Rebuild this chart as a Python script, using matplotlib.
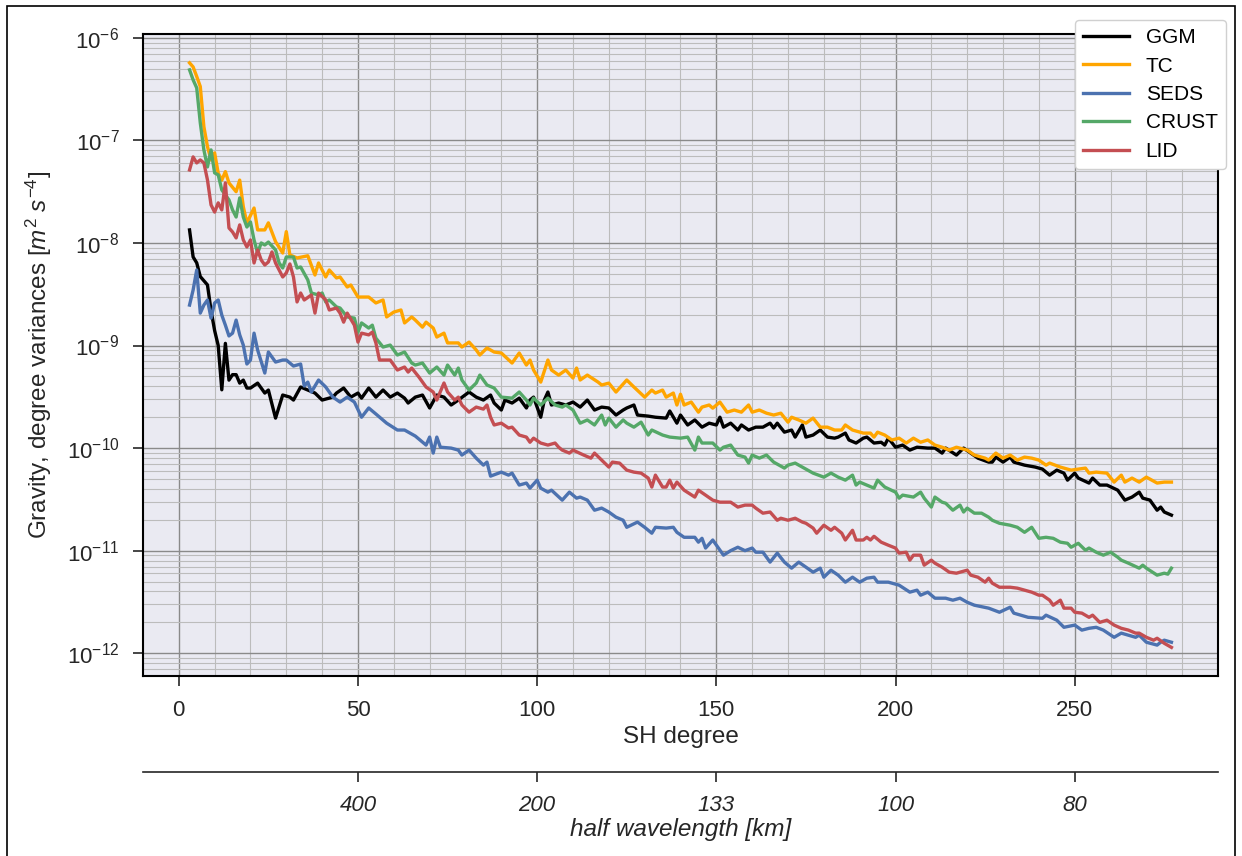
import matplotlib
matplotlib.use("Agg")
import matplotlib.pyplot as plt
from matplotlib.patches import Rectangle
from matplotlib.ticker import LogLocator, MultipleLocator, NullFormatter

plt.rcParams['font.family'] = ['Liberation Sans', 'DejaVu Sans']
plt.rcParams['mathtext.fontset'] = 'custom'
plt.rcParams['mathtext.rm'] = 'Liberation Sans'
plt.rcParams['mathtext.it'] = 'Liberation Sans:italic'
plt.rcParams['mathtext.bf'] = 'Liberation Sans:bold'

# degree variances: (SH degree, value in m^2 s^-4)
ggm = [
    (3, 1.34e-8), (4, 7.3e-9), (5, 6.4e-9), (6, 4.7e-9), (8, 3.9e-9), (9, 2.2e-9),
    (10, 1.4e-9), (11, 1.0e-9), (12, 3.7e-10), (13, 1.05e-9), (14, 4.6e-10), (15, 5.2e-10),
    (16, 5.2e-10), (17, 4.3e-10), (18, 4.6e-10), (19, 3.85e-10), (20, 3.85e-10), (22, 4.3e-10),
    (24, 3.44e-10), (25, 3.68e-10), (27, 1.96e-10), (29, 3.29e-10), (31, 3.14e-10), (32, 2.94e-10),
    (34, 3.94e-10), (36, 3.68e-10), (38, 3.44e-10), (40, 2.94e-10), (43, 3.14e-10), (44, 3.44e-10),
    (46, 3.85e-10), (48, 3.14e-10), (50, 3.44e-10), (51, 3.07e-10), (53, 3.85e-10), (55, 3.14e-10),
    (57, 3.68e-10), (59, 3.14e-10), (61, 3.44e-10), (63, 3.07e-10), (64, 2.75e-10), (66, 3.14e-10),
    (68, 3.29e-10), (70, 2.46e-10), (72, 3.29e-10), (74, 3.14e-10), (76, 2.63e-10), (78, 2.94e-10),
    (81, 3.52e-10), (83, 3.14e-10), (85, 2.94e-10), (87, 3.29e-10), (88, 2.75e-10), (90, 2.35e-10),
    (91, 2.94e-10), (93, 2.75e-10), (95, 3.07e-10), (97, 2.46e-10), (98, 2.94e-10), (99, 3.14e-10),
    (101, 2.0e-10), (102, 2.94e-10), (103, 3.52e-10), (104, 2.63e-10), (106, 2.75e-10), (108, 2.63e-10),
    (110, 2.81e-10), (112, 2.51e-10), (114, 2.94e-10), (116, 2.35e-10), (118, 2.51e-10), (120, 2.46e-10),
    (122, 2.1e-10), (124, 2.35e-10), (125, 2.46e-10), (127, 2.63e-10), (128, 2.1e-10), (131, 2.05e-10),
    (133, 2.0e-10), (136, 1.96e-10), (137, 2.3e-10), (139, 1.75e-10), (140, 2.1e-10), (142, 1.68e-10),
    (144, 1.88e-10), (146, 1.6e-10), (148, 1.75e-10), (150, 1.68e-10), (151, 2.0e-10), (152, 1.6e-10),
    (154, 1.75e-10), (156, 1.5e-10), (157, 1.68e-10), (159, 1.5e-10), (161, 1.6e-10), (163, 1.6e-10),
    (165, 1.75e-10), (166, 1.57e-10), (167, 1.75e-10), (169, 1.43e-10), (171, 1.5e-10), (172, 1.28e-10),
    (174, 1.68e-10), (175, 1.28e-10), (177, 1.34e-10), (179, 1.5e-10), (181, 1.28e-10), (183, 1.25e-10),
    (184, 1.28e-10), (186, 1.4e-10), (187, 1.2e-10), (189, 1.12e-10), (191, 1.25e-10), (192, 1.28e-10),
    (194, 1.12e-10), (196, 1.14e-10), (197, 1.07e-10), (198, 1.25e-10), (200, 1.02e-10), (202, 1.07e-10),
    (204, 9.56e-11), (206, 1.02e-10), (209, 1.0e-10), (211, 1.0e-10), (213, 8.94e-11), (214, 1.0e-10),
    (217, 8.55e-11), (219, 1.0e-10), (221, 8.94e-11), (223, 7.98e-11), (226, 7.3e-11), (227, 7.3e-11),
    (228, 8.17e-11), (230, 7.3e-11), (232, 8.17e-11), (233, 7.3e-11), (236, 6.82e-11), (239, 6.53e-11),
    (241, 6.24e-11), (243, 5.45e-11), (245, 6.1e-11), (247, 5.7e-11), (248, 4.87e-11), (250, 5.7e-11),
    (251, 5.1e-11), (254, 4.56e-11), (255, 5.1e-11), (257, 4.36e-11), (259, 4.36e-11), (262, 3.89e-11),
    (264, 3.11e-11), (266, 3.33e-11), (268, 3.72e-11), (269, 3.25e-11), (271, 3.11e-11), (273, 2.48e-11),
    (274, 2.66e-11), (275, 2.38e-11), (277, 2.22e-11),
]

tc = [
    (3, 5.7e-7), (4, 5.2e-7), (5, 4.2e-7), (6, 3.35e-7), (7, 1.36e-7), (8, 8.7e-8),
    (9, 6.45e-8), (10, 7.55e-8), (11, 4.8e-8), (12, 4.1e-8), (13, 4.96e-8), (14, 3.85e-8),
    (16, 3.16e-8), (17, 4.1e-8), (18, 2.26e-8), (19, 1.57e-8), (21, 2.19e-8), (22, 1.34e-8),
    (24, 1.34e-8), (25, 1.57e-8), (27, 1.03e-8), (29, 7.98e-9), (30, 1.29e-8), (31, 7.64e-9),
    (33, 7.14e-9), (36, 7.5e-9), (38, 4.87e-9), (39, 6.38e-9), (41, 4.66e-9), (42, 5.45e-9),
    (44, 4.56e-9), (45, 4.66e-9), (47, 3.72e-9), (48, 3.89e-9), (50, 2.97e-9), (53, 2.97e-9),
    (55, 2.6e-9), (57, 2.78e-9), (58, 1.9e-9), (60, 2.12e-9), (62, 2.22e-9), (63, 1.66e-9),
    (65, 1.9e-9), (66, 1.77e-9), (68, 1.51e-9), (69, 1.69e-9), (71, 1.48e-9), (72, 1.21e-9),
    (74, 1.32e-9), (75, 1.06e-9), (78, 1.06e-9), (79, 9.66e-10), (81, 1.08e-9), (83, 9.04e-10),
    (84, 8.08e-10), (86, 9.46e-10), (88, 8.64e-10), (90, 8.45e-10), (93, 6.75e-10), (95, 8.45e-10),
    (97, 6.45e-10), (98, 7.22e-10), (99, 5.77e-10), (101, 4.4e-10), (103, 7.22e-10), (104, 5.77e-10),
    (106, 5.15e-10), (108, 5.77e-10), (110, 4.82e-10), (111, 6.03e-10), (112, 4.61e-10), (114, 5.15e-10),
    (117, 4.4e-10), (118, 4.12e-10), (120, 4.3e-10), (122, 3.52e-10), (125, 4.61e-10), (127, 3.94e-10),
    (130, 3.14e-10), (132, 3.68e-10), (133, 3.44e-10), (135, 3.68e-10), (136, 3.14e-10), (138, 3.44e-10),
    (139, 2.63e-10), (140, 3.35e-10), (141, 2.63e-10), (143, 2.81e-10), (145, 2.24e-10), (146, 2.51e-10),
    (148, 2.63e-10), (149, 2.45e-10), (151, 2.81e-10), (153, 2.24e-10), (155, 2.35e-10), (157, 2.24e-10),
    (159, 2.63e-10), (160, 2.24e-10), (162, 2.35e-10), (164, 2.19e-10), (166, 2.1e-10), (168, 2.19e-10),
    (170, 1.79e-10), (171, 2.0e-10), (173, 1.88e-10), (175, 1.75e-10), (177, 1.96e-10), (179, 1.6e-10),
    (181, 1.6e-10), (183, 1.5e-10), (185, 1.5e-10), (186, 1.68e-10), (188, 1.5e-10), (191, 1.4e-10),
    (193, 1.4e-10), (194, 1.28e-10), (195, 1.43e-10), (197, 1.34e-10), (199, 1.2e-10), (201, 1.25e-10),
    (203, 1.12e-10), (205, 1.25e-10), (207, 1.14e-10), (209, 1.2e-10), (211, 1.07e-10), (213, 1.02e-10),
    (215, 9.56e-11), (217, 1.02e-10), (220, 9.56e-11), (222, 8.55e-11), (225, 7.98e-11), (226, 7.64e-11),
    (228, 8.94e-11), (230, 7.98e-11), (232, 8.55e-11), (234, 7.64e-11), (236, 8.17e-11), (238, 7.98e-11),
    (240, 7.64e-11), (242, 6.82e-11), (243, 7.14e-11), (246, 6.53e-11), (249, 6.1e-11), (253, 6.38e-11),
    (254, 5.7e-11), (256, 5.83e-11), (259, 5.7e-11), (261, 4.66e-11), (263, 5.45e-11), (264, 4.66e-11),
    (266, 5.1e-11), (268, 4.66e-11), (270, 5.21e-11), (273, 4.56e-11), (275, 4.66e-11), (277, 4.66e-11),
]

seds = [
    (3, 2.48e-9), (4, 3.48e-9), (5, 5.45e-9), (6, 2.07e-9), (7, 2.48e-9), (8, 2.78e-9),
    (9, 1.85e-9), (10, 2.6e-9), (11, 2.78e-9), (12, 1.98e-9), (13, 1.58e-9), (14, 1.24e-9),
    (15, 1.32e-9), (16, 1.77e-9), (17, 1.27e-9), (18, 1.01e-9), (19, 6.6e-10), (20, 7.22e-10),
    (21, 1.32e-9), (22, 9.04e-10), (24, 5.39e-10), (25, 8.64e-10), (27, 6.9e-10), (29, 7.22e-10),
    (30, 7.22e-10), (32, 6.31e-10), (34, 6.6e-10), (35, 4.03e-10), (36, 4.4e-10), (37, 3.52e-10),
    (39, 4.61e-10), (41, 3.94e-10), (43, 3.14e-10), (45, 2.81e-10), (47, 3.14e-10), (49, 2.81e-10),
    (51, 2.0e-10), (53, 2.46e-10), (55, 2.15e-10), (58, 1.75e-10), (61, 1.5e-10), (63, 1.5e-10),
    (66, 1.31e-10), (69, 1.07e-10), (70, 1.28e-10), (71, 8.94e-11), (72, 1.28e-10), (73, 1.02e-10),
    (76, 1.0e-10), (78, 9.56e-11), (79, 8.55e-11), (81, 9.56e-11), (83, 7.98e-11), (85, 6.82e-11),
    (86, 7.3e-11), (87, 5.33e-11), (90, 5.83e-11), (92, 5.45e-11), (93, 5.7e-11), (95, 4.36e-11),
    (97, 4.56e-11), (98, 4.07e-11), (100, 4.87e-11), (101, 4.07e-11), (103, 3.72e-11), (104, 3.89e-11),
    (107, 3.11e-11), (109, 3.72e-11), (111, 3.25e-11), (112, 3.33e-11), (114, 3.11e-11), (116, 2.48e-11),
    (118, 2.6e-11), (120, 2.38e-11), (122, 2.12e-11), (124, 1.98e-11), (125, 1.69e-11), (128, 1.9e-11),
    (130, 1.69e-11), (132, 1.48e-11), (133, 1.69e-11), (136, 1.66e-11), (138, 1.69e-11), (139, 1.51e-11),
    (141, 1.35e-11), (144, 1.35e-11), (145, 1.21e-11), (146, 1.32e-11), (147, 1.06e-11), (149, 1.27e-11),
    (152, 9.04e-12), (154, 1.0e-11), (156, 1.08e-11), (158, 1.0e-11), (160, 1.06e-11), (161, 9.66e-12),
    (163, 9.66e-12), (165, 7.73e-12), (167, 9.46e-12), (169, 7.73e-12), (171, 6.75e-12), (173, 7.73e-12),
    (175, 6.9e-12), (177, 6.17e-12), (179, 6.75e-12), (180, 5.51e-12), (182, 6.45e-12), (184, 5.77e-12),
    (186, 4.93e-12), (188, 5.51e-12), (190, 4.93e-12), (192, 5.39e-12), (194, 5.51e-12), (195, 4.93e-12),
    (198, 4.93e-12), (201, 4.61e-12), (204, 3.94e-12), (206, 4.12e-12), (207, 3.68e-12), (209, 3.94e-12),
    (211, 3.44e-12), (214, 3.44e-12), (216, 3.29e-12), (218, 3.44e-12), (220, 3.14e-12), (222, 2.94e-12),
    (226, 2.75e-12), (229, 2.51e-12), (232, 2.81e-12), (233, 2.46e-12), (235, 2.35e-12), (237, 2.24e-12),
    (241, 2.19e-12), (242, 2.35e-12), (245, 2.1e-12), (247, 1.79e-12), (250, 1.88e-12), (252, 1.68e-12),
    (254, 1.75e-12), (256, 1.79e-12), (258, 1.68e-12), (261, 1.43e-12), (263, 1.57e-12), (265, 1.5e-12),
    (267, 1.43e-12), (268, 1.5e-12), (270, 1.28e-12), (273, 1.2e-12), (274, 1.28e-12), (275, 1.34e-12),
    (277, 1.28e-12),
]

crust = [
    (3, 4.87e-7), (4, 3.89e-7), (5, 3.25e-7), (6, 1.48e-7), (7, 8.08e-8), (8, 5.51e-8),
    (9, 8.08e-8), (10, 4.82e-8), (11, 4.61e-8), (12, 3.29e-8), (13, 2.94e-8), (14, 2.63e-8),
    (15, 2.1e-8), (16, 1.79e-8), (17, 2.75e-8), (18, 1.79e-8), (19, 1.43e-8), (20, 1.6e-8),
    (21, 1.07e-8), (22, 7.98e-9), (23, 1.0e-8), (24, 9.56e-9), (25, 1.02e-8), (27, 8.55e-9),
    (28, 6.38e-9), (29, 5.7e-9), (30, 7.3e-9), (32, 7.3e-9), (33, 5.7e-9), (34, 5.83e-9),
    (36, 4.36e-9), (37, 3.25e-9), (39, 3.11e-9), (40, 3.25e-9), (41, 2.66e-9), (42, 2.78e-9),
    (44, 2.38e-9), (45, 2.32e-9), (47, 1.9e-9), (49, 1.85e-9), (50, 1.35e-9), (51, 1.66e-9),
    (53, 1.48e-9), (54, 1.58e-9), (55, 1.18e-9), (57, 9.66e-10), (59, 1.01e-9), (61, 8.08e-10),
    (63, 8.64e-10), (65, 6.75e-10), (66, 6.45e-10), (68, 6.75e-10), (70, 5.39e-10), (72, 6.17e-10),
    (74, 5.15e-10), (75, 6.45e-10), (77, 5.15e-10), (78, 6.03e-10), (79, 4.61e-10), (81, 3.68e-10),
    (83, 4.31e-10), (84, 5.15e-10), (86, 4.12e-10), (88, 3.85e-10), (90, 3.14e-10), (93, 3.07e-10),
    (95, 3.52e-10), (97, 2.94e-10), (98, 2.63e-10), (99, 3.07e-10), (101, 2.63e-10), (103, 3.07e-10),
    (105, 2.63e-10), (107, 2.51e-10), (108, 2.63e-10), (110, 2.35e-10), (112, 1.75e-10), (114, 1.88e-10),
    (116, 1.68e-10), (118, 2.1e-10), (119, 1.68e-10), (120, 1.96e-10), (122, 1.6e-10), (124, 1.88e-10),
    (125, 1.75e-10), (127, 1.6e-10), (129, 1.79e-10), (131, 1.34e-10), (132, 1.5e-10), (135, 1.34e-10),
    (137, 1.28e-10), (140, 1.25e-10), (142, 1.28e-10), (144, 9.56e-11), (145, 1.28e-10), (146, 1.12e-10),
    (149, 1.12e-10), (151, 9.56e-11), (152, 1.02e-10), (154, 1.07e-10), (156, 8.55e-11), (158, 8.17e-11),
    (159, 7.14e-11), (160, 8.55e-11), (162, 7.98e-11), (164, 8.55e-11), (166, 7.3e-11), (169, 6.38e-11),
    (170, 6.82e-11), (172, 7.14e-11), (174, 6.53e-11), (177, 5.7e-11), (180, 5.21e-11), (182, 5.7e-11),
    (184, 5.21e-11), (186, 4.87e-11), (188, 5.45e-11), (189, 4.36e-11), (190, 4.66e-11), (192, 4.36e-11),
    (194, 4.07e-11), (195, 4.87e-11), (197, 4.17e-11), (200, 3.72e-11), (201, 3.25e-11), (202, 3.48e-11),
    (205, 3.33e-11), (207, 3.72e-11), (208, 3.25e-11), (210, 2.66e-11), (211, 3.33e-11), (213, 2.97e-11),
    (214, 2.9e-11), (216, 2.48e-11), (218, 2.78e-11), (219, 2.38e-11), (220, 2.6e-11), (222, 2.32e-11),
    (224, 2.32e-11), (226, 2.12e-11), (227, 1.98e-11), (229, 1.85e-11), (232, 1.77e-11), (234, 1.69e-11),
    (236, 1.51e-11), (238, 1.69e-11), (240, 1.32e-11), (242, 1.35e-11), (244, 1.32e-11), (246, 1.21e-11),
    (248, 1.18e-11), (249, 1.08e-11), (251, 1.18e-11), (253, 1.01e-11), (254, 1.06e-11), (256, 9.66e-12),
    (258, 9.04e-12), (260, 9.66e-12), (262, 8.64e-12), (263, 8.08e-12), (265, 7.55e-12), (268, 6.75e-12),
    (269, 7.22e-12), (270, 6.75e-12), (273, 5.77e-12), (275, 6.03e-12), (276, 5.9e-12), (277, 6.75e-12),
]

lid = [
    (3, 5.15e-8), (4, 6.9e-8), (5, 6.03e-8), (6, 6.45e-8), (7, 6.03e-8), (8, 4.12e-8),
    (9, 2.35e-8), (10, 2.0e-8), (11, 2.46e-8), (12, 2.1e-8), (13, 3.85e-8), (14, 1.4e-8),
    (15, 1.28e-8), (16, 1.12e-8), (17, 1.5e-8), (18, 1.07e-8), (19, 9.14e-9), (20, 1.07e-8),
    (21, 6.38e-9), (22, 8.55e-9), (23, 6.82e-9), (24, 6.1e-9), (25, 6.53e-9), (26, 8.17e-9),
    (27, 6.38e-9), (29, 4.66e-9), (30, 5.1e-9), (31, 6.24e-9), (32, 4.66e-9), (33, 2.66e-9),
    (34, 3.25e-9), (35, 2.78e-9), (37, 3.11e-9), (38, 2.07e-9), (39, 3.25e-9), (41, 2.78e-9),
    (42, 2.22e-9), (44, 2.32e-9), (45, 2.07e-9), (46, 1.69e-9), (47, 2.07e-9), (49, 1.58e-9),
    (50, 1.08e-9), (51, 1.32e-9), (53, 1.27e-9), (54, 1.35e-9), (55, 1.06e-9), (56, 7.22e-10),
    (58, 7.22e-10), (59, 7.22e-10), (61, 5.77e-10), (63, 6.17e-10), (64, 5.51e-10), (65, 6.03e-10),
    (67, 4.93e-10), (69, 3.94e-10), (71, 3.52e-10), (72, 2.94e-10), (74, 4.31e-10), (75, 3.52e-10),
    (77, 2.94e-10), (78, 3.14e-10), (79, 2.63e-10), (81, 2.24e-10), (83, 2.51e-10), (85, 2.4e-10),
    (86, 2.63e-10), (87, 2.0e-10), (88, 1.68e-10), (90, 1.75e-10), (92, 1.57e-10), (93, 1.6e-10),
    (95, 1.34e-10), (97, 1.28e-10), (98, 1.14e-10), (99, 1.25e-10), (101, 1.12e-10), (103, 1.07e-10),
    (105, 1.12e-10), (106, 1.02e-10), (107, 9.56e-11), (109, 8.94e-11), (110, 9.56e-11), (113, 8.55e-11),
    (115, 7.98e-11), (116, 8.94e-11), (118, 7.64e-11), (120, 6.53e-11), (121, 7.3e-11), (123, 7.14e-11),
    (125, 6.1e-11), (127, 5.83e-11), (129, 5.7e-11), (131, 5.1e-11), (132, 4.17e-11), (133, 5.45e-11),
    (135, 4.17e-11), (136, 4.17e-11), (137, 4.87e-11), (138, 4.07e-11), (139, 4.66e-11), (141, 3.89e-11),
    (144, 3.33e-11), (145, 3.89e-11), (147, 3.48e-11), (149, 3.11e-11), (151, 2.97e-11), (154, 2.97e-11),
    (156, 2.66e-11), (158, 2.78e-11), (160, 2.78e-11), (161, 2.6e-11), (163, 2.32e-11), (165, 2.38e-11),
    (167, 1.98e-11), (168, 2.07e-11), (170, 1.98e-11), (172, 2.07e-11), (174, 1.9e-11), (175, 1.85e-11),
    (177, 1.66e-11), (178, 1.48e-11), (180, 1.77e-11), (182, 1.58e-11), (183, 1.69e-11), (185, 1.48e-11),
    (186, 1.27e-11), (188, 1.58e-11), (189, 1.27e-11), (191, 1.27e-11), (192, 1.35e-11), (193, 1.27e-11),
    (194, 1.38e-11), (196, 1.21e-11), (198, 1.13e-11), (200, 1.06e-11), (201, 9.46e-12), (203, 9.66e-12),
    (204, 8.08e-12), (205, 9.04e-12), (207, 9.04e-12), (208, 7.22e-12), (210, 8.08e-12), (211, 7.55e-12),
    (213, 6.9e-12), (215, 6.17e-12), (217, 6.03e-12), (218, 6.17e-12), (220, 6.45e-12), (221, 5.77e-12),
    (223, 5.51e-12), (225, 4.93e-12), (226, 5.39e-12), (227, 4.82e-12), (229, 4.4e-12), (232, 4.4e-12),
    (234, 4.31e-12), (236, 4.12e-12), (238, 3.94e-12), (240, 3.68e-12), (241, 3.68e-12), (243, 3.29e-12),
    (244, 2.94e-12), (246, 3.29e-12), (247, 2.75e-12), (249, 2.75e-12), (250, 2.51e-12), (252, 2.46e-12),
    (254, 2.24e-12), (255, 2.35e-12), (257, 2.0e-12), (259, 2.1e-12), (261, 1.88e-12), (263, 1.75e-12),
    (265, 1.68e-12), (267, 1.57e-12), (268, 1.57e-12), (270, 1.43e-12), (272, 1.34e-12), (273, 1.4e-12),
    (275, 1.25e-12), (277, 1.14e-12),
]

names = ["GGM", "TC", "SEDS", "CRUST", "LID"]
colors = ["black", "orange", "#4C72B0", "#55A868", "#C44E52"]

# secondary axis: half wavelength labels at chosen SH degrees
wl_degrees = [50, 100, 150, 200, 250]
wl_labels = ["400", "200", "133", "100", "80"]

fig = plt.figure(figsize=(12.42, 8.56), dpi=100)
# thin black frame around the figure (bottom edge falls outside the image)
fig.patches.append(Rectangle((0.0056, -0.02), 0.9887, 1.013, transform=fig.transFigure,
                             fill=False, edgecolor="black", linewidth=1.2))

ax = fig.add_axes([0.1151, 0.2103, 0.8656, 0.75])
ax.set_facecolor("#EAEAF2")

for name, pts, c in zip(names, [ggm, tc, seds, crust, lid], colors):
    deg, val = zip(*pts)
    ax.plot(deg, val, color=c, lw=2.4, label=name)

ax.set_yscale("log")
ax.set_xlim(-10, 290)
ax.set_ylim(6e-13, 1.09e-6)
ax.xaxis.set_major_locator(MultipleLocator(50))
ax.xaxis.set_minor_locator(MultipleLocator(10))
ax.yaxis.set_major_locator(LogLocator(base=10, numticks=20))
ax.yaxis.set_minor_locator(LogLocator(base=10, subs=range(2, 10), numticks=100))
ax.yaxis.set_minor_formatter(NullFormatter())

ax.set_axisbelow(True)
ax.grid(which="major", color="#8a8a8a", lw=1.0)
ax.grid(which="minor", color="#bcbcbc", lw=0.8)
ax.tick_params(which="minor", length=0)
ax.tick_params(which="major", length=7, width=1.2, color="#262626",
               labelsize=16, labelcolor="#262626", pad=10)
for s in ax.spines.values():
    s.set_color("black")
    s.set_linewidth(1.5)

ax.set_xlabel("SH degree", fontsize=17.5, color="#262626", labelpad=4)
ax.set_ylabel(r"Gravity, degree variances [$m^2\ s^{-4}$]", fontsize=17.5,
              color="#262626", labelpad=9)

leg = ax.legend(loc="upper right", bbox_to_anchor=(1.0074, 1.0218), borderaxespad=0,
                fontsize=15, frameon=True, fancybox=True, framealpha=1,
                edgecolor="#d0d0d0", handlelength=2.2, labelspacing=0.45)

ax2 = ax.twiny()
ax2.xaxis.set_ticks_position("bottom")
ax2.xaxis.set_label_position("bottom")
ax2.spines["bottom"].set_position(("outward", 69))
for k in ["top", "left", "right"]:
    ax2.spines[k].set_visible(False)
ax2.spines["bottom"].set_color("#262626")
ax2.spines["bottom"].set_linewidth(1.2)
ax2.set_xlim(ax.get_xlim())
ax2.set_xticks(wl_degrees)
ax2.set_xticklabels(wl_labels, fontstyle="italic")
ax2.tick_params(length=7, width=1.2, color="#262626", labelsize=16,
                labelcolor="#262626", pad=10)
ax2.set_xlabel("half wavelength [km]", fontsize=17.5, fontstyle="italic",
               color="#262626", labelpad=1)

fig.savefig("out.png", dpi=100)
